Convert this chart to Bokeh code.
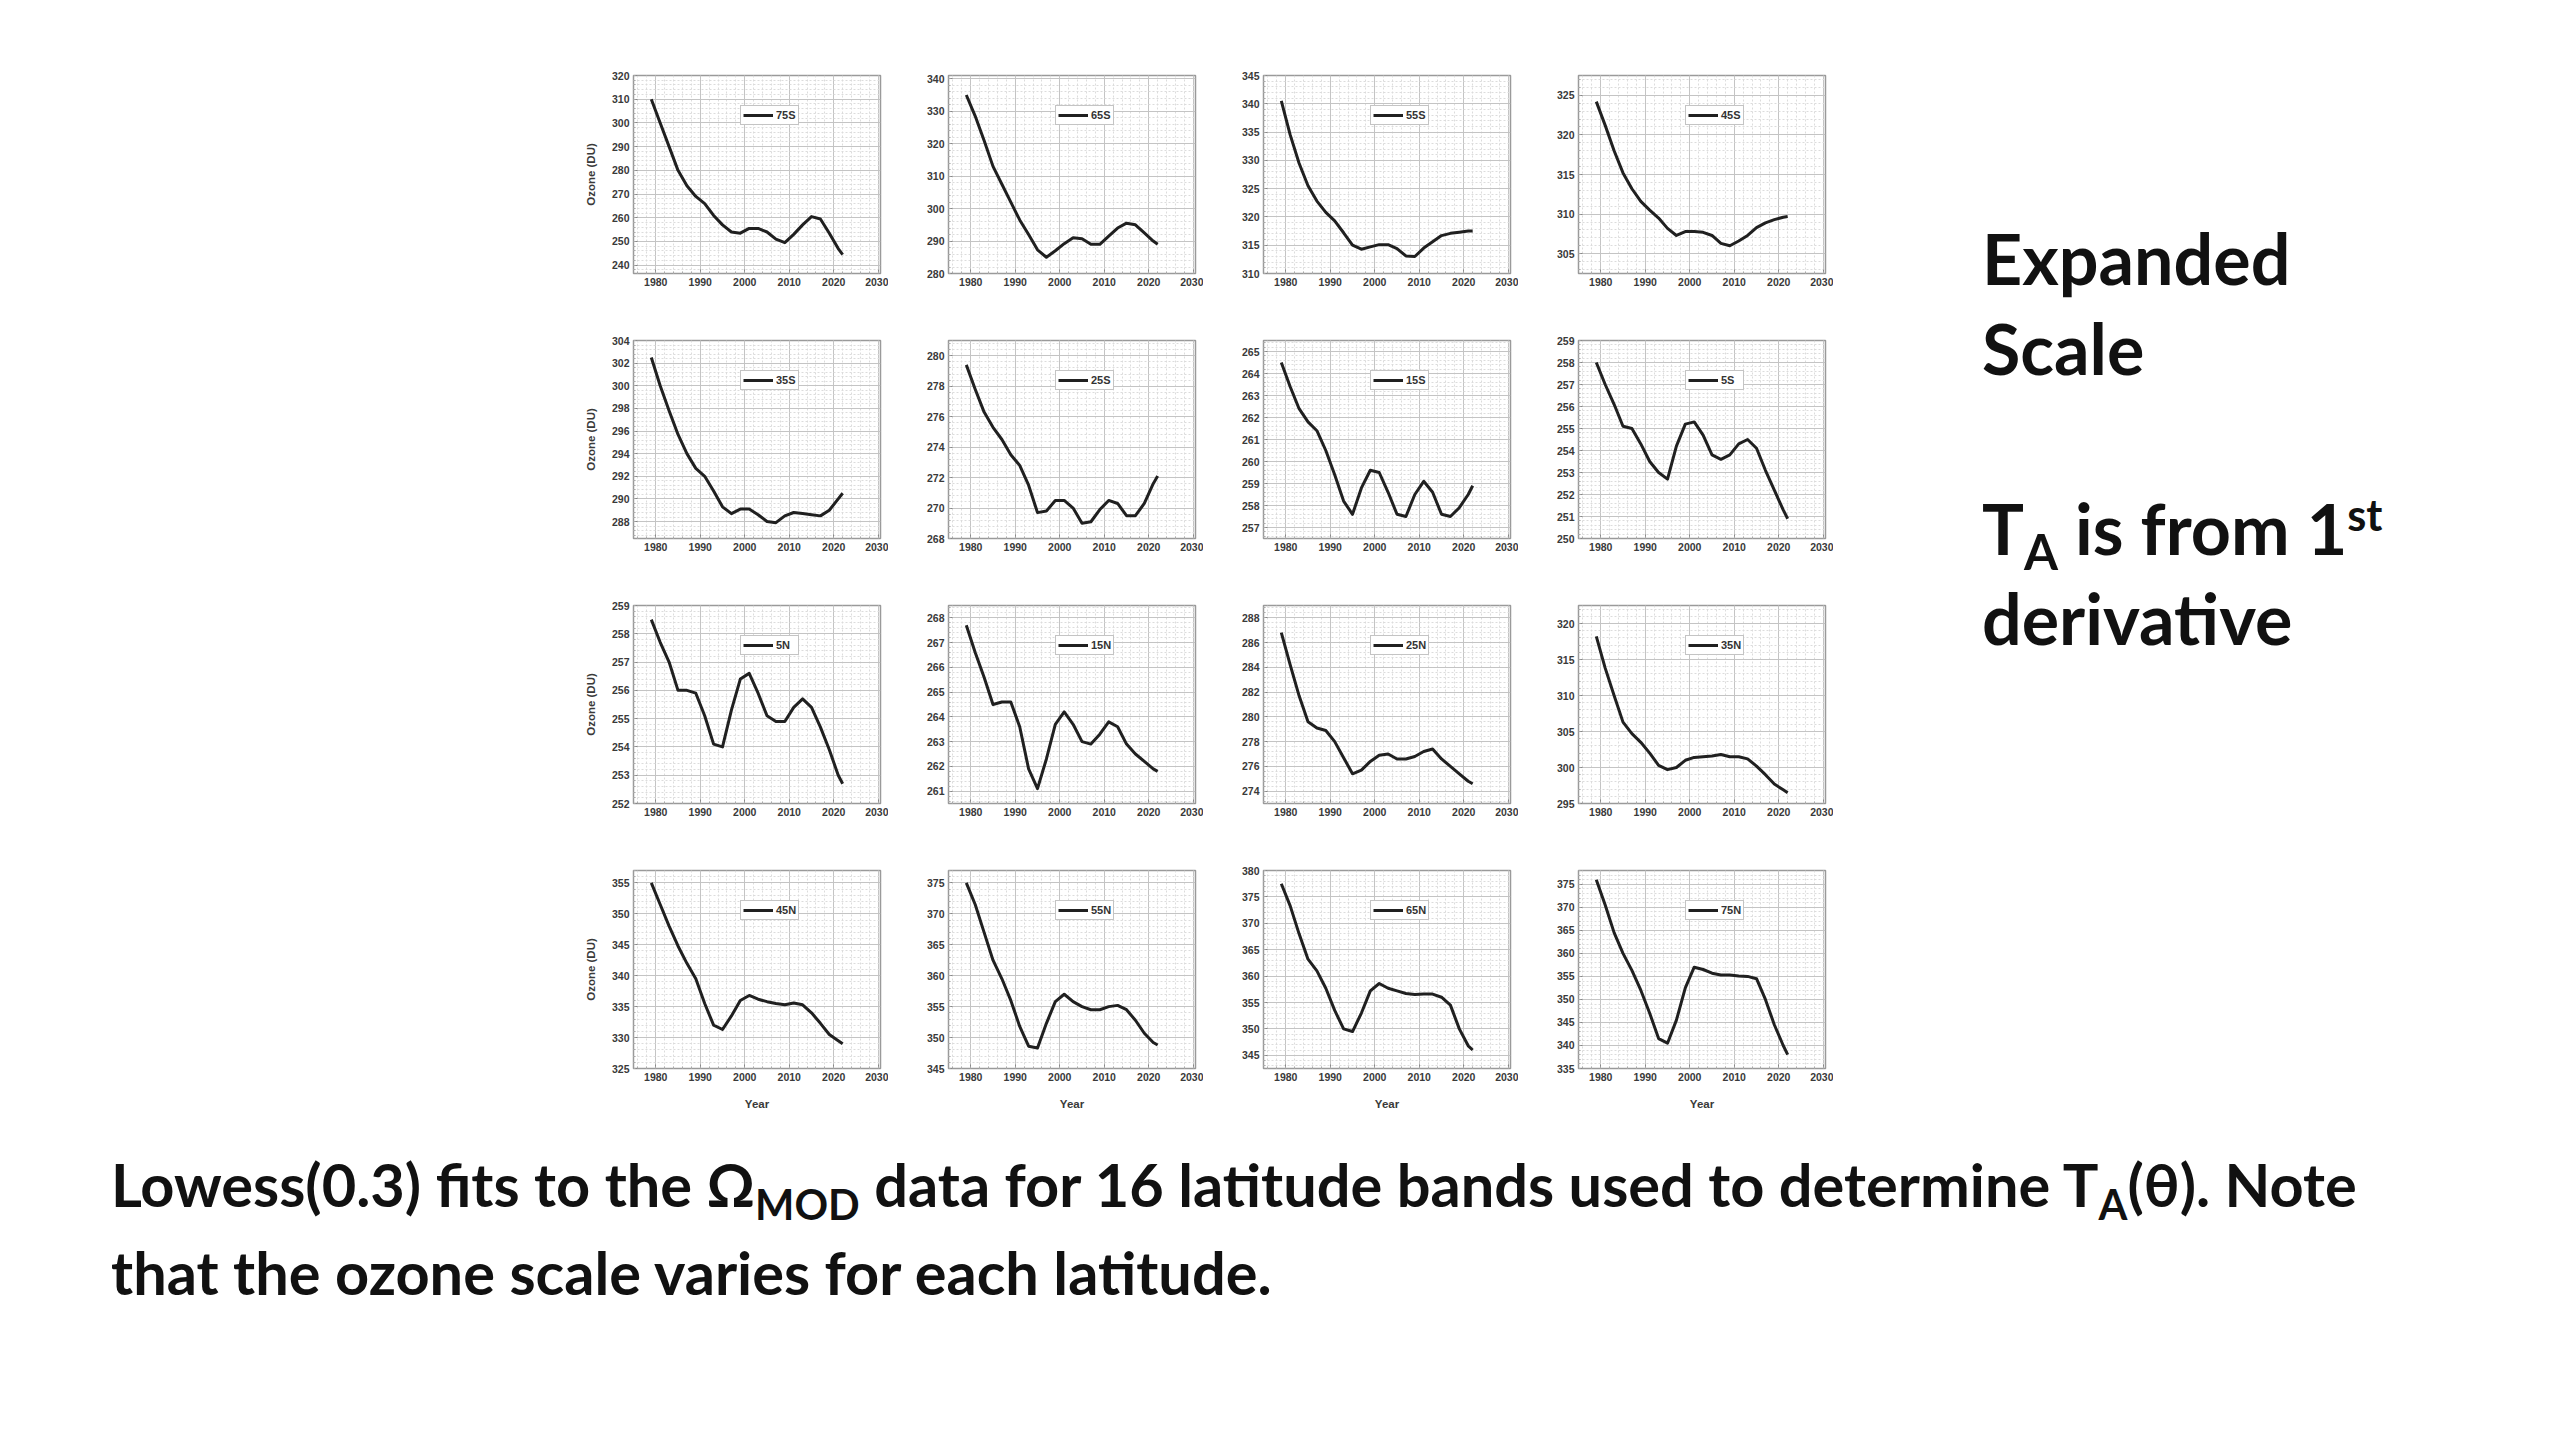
from bokeh.plotting import figure
from bokeh.layouts import gridplot, column, row
from bokeh.models import Spacer, Div, FixedTicker, Range1d, Legend, LegendItem
from bokeh.embed import file_html
from bokeh.resources import INLINE

# ---------------- data ----------------
years = [1979, 1981, 1983, 1985, 1987, 1989, 1991, 1993, 1995, 1997, 1999,
         2001, 2003, 2005, 2007, 2009, 2011, 2013, 2015, 2017, 2019, 2021, 2022]

bands = ["75S", "65S", "55S", "45S", "35S", "25S", "15S", "5S",
         "5N", "15N", "25N", "35N", "45N", "55N", "65N", "75N"]

ozone_75S = [310, 300, 290, 280, 273.5, 269, 266, 261, 257, 254, 253.5, 255.5,
             255.5, 254, 251, 249.5, 253, 257, 260.5, 259.5, 253.5, 247, 244.5]
ozone_65S = [335, 328.5, 321, 313, 307.5, 302, 296.5, 292, 287.3, 285, 287, 289.2,
             291, 290.7, 289, 289, 291.5, 294, 295.5, 295, 292.5, 290, 289]
ozone_55S = [340.5, 334.5, 329.5, 325.5, 322.8, 320.8, 319.3, 317.2, 315, 314.3, 314.7,
             315.1, 315.1, 314.4, 313.1, 313, 314.5, 315.6, 316.7, 317.1, 317.3, 317.5, 317.5]
ozone_45S = [324.2, 321.2, 318, 315.2, 313.2, 311.6, 310.5, 309.5, 308.2, 307.3, 307.8,
             307.8, 307.7, 307.3, 306.3, 306, 306.6, 307.3, 308.3, 308.9, 309.3, 309.6, 309.7]
ozone_35S = [302.5, 300, 297.8, 295.7, 294, 292.7, 292, 290.7, 289.3, 288.7, 289.1,
             289.1, 288.6, 288, 287.9, 288.5, 288.8, 288.7, 288.6, 288.5, 289, 290, 290.5]
ozone_25S = [279.4, 277.8, 276.3, 275.3, 274.5, 273.5, 272.8, 271.5, 269.7, 269.8, 270.5,
             270.5, 270, 269, 269.1, 269.9, 270.5, 270.3, 269.5, 269.5, 270.3, 271.6, 272.1]
ozone_15S = [264.5, 263.4, 262.4, 261.8, 261.4, 260.5, 259.4, 258.2, 257.6, 258.8, 259.6,
             259.5, 258.6, 257.6, 257.5, 258.5, 259.1, 258.6, 257.6, 257.5, 257.9, 258.5, 258.9]
ozone_5S = [258, 257, 256.1, 255.1, 255, 254.3, 253.5, 253, 252.7, 254.2, 255.2,
            255.3, 254.7, 253.8, 253.6, 253.8, 254.3, 254.5, 254.1, 253.1, 252.2, 251.3, 250.9]
ozone_5N = [258.5, 257.7, 257, 256, 256, 255.9, 255.1, 254.1, 254, 255.3, 256.4,
            256.6, 255.9, 255.1, 254.9, 254.9, 255.4, 255.7, 255.4, 254.7, 253.9, 253, 252.7]
ozone_15N = [267.7, 266.6, 265.6, 264.5, 264.6, 264.6, 263.6, 261.9, 261.1, 262.3, 263.7,
             264.2, 263.7, 263, 262.9, 263.3, 263.8, 263.6, 262.9, 262.5, 262.2, 261.9, 261.8]
ozone_25N = [286.8, 284.2, 281.7, 279.6, 279.1, 278.9, 278, 276.7, 275.4, 275.7, 276.4,
             276.9, 277, 276.6, 276.6, 276.8, 277.2, 277.4, 276.6, 276, 275.4, 274.8, 274.6]
ozone_35N = [318.2, 313.8, 310, 306.3, 304.7, 303.5, 302, 300.3, 299.7, 300, 301,
             301.4, 301.5, 301.6, 301.8, 301.5, 301.5, 301.2, 300.2, 299, 297.7, 296.9, 296.5]
ozone_45N = [355, 351.5, 348, 344.8, 342, 339.5, 335.5, 332, 331.3, 333.5, 336,
             336.8, 336.2, 335.8, 335.5, 335.3, 335.6, 335.3, 334, 332.3, 330.5, 329.5, 329]
ozone_55N = [375, 371.5, 367, 362.5, 359.5, 356, 351.8, 348.6, 348.3, 352.3, 355.8,
             357, 355.8, 355, 354.5, 354.5, 355, 355.2, 354.5, 352.8, 350.7, 349.2, 348.8]
ozone_65N = [377.5, 373.3, 368, 363.2, 361, 357.7, 353.5, 350, 349.5, 353, 357.2,
             358.6, 357.7, 357.2, 356.7, 356.5, 356.6, 356.6, 356, 354.5, 350, 346.8, 346]
ozone_75N = [376, 370.5, 364.5, 360, 356.3, 352, 347, 341.5, 340.5, 345.5, 352.5,
             357, 356.5, 355.7, 355.3, 355.3, 355.1, 355, 354.5, 350, 344.5, 340, 338]

series = [ozone_75S, ozone_65S, ozone_55S, ozone_45S, ozone_35S, ozone_25S, ozone_15S, ozone_5S,
          ozone_5N, ozone_15N, ozone_25N, ozone_35N, ozone_45N, ozone_55N, ozone_65N, ozone_75N]

# y-axis tick labels per panel
yticks = [
    [240, 250, 260, 270, 280, 290, 300, 310, 320],
    [280, 290, 300, 310, 320, 330, 340],
    [310, 315, 320, 325, 330, 335, 340, 345],
    [305, 310, 315, 320, 325],
    [288, 290, 292, 294, 296, 298, 300, 302, 304],
    [268, 270, 272, 274, 276, 278, 280],
    [257, 258, 259, 260, 261, 262, 263, 264, 265],
    [250, 251, 252, 253, 254, 255, 256, 257, 258, 259],
    [252, 253, 254, 255, 256, 257, 258, 259],
    [261, 262, 263, 264, 265, 266, 267, 268],
    [274, 276, 278, 280, 282, 284, 286, 288],
    [295, 300, 305, 310, 315, 320],
    [325, 330, 335, 340, 345, 350, 355],
    [345, 350, 355, 360, 365, 370, 375],
    [345, 350, 355, 360, 365, 370, 375, 380],
    [335, 340, 345, 350, 355, 360, 365, 370, 375],
]
# y-axis ranges per panel
ylims = [
    (236.5, 320), (280, 341), (310, 345), (302.5, 327.5),
    (286.5, 304), (268, 281), (256.5, 265.5), (250, 259),
    (252, 259), (260.5, 268.5), (273, 289), (295, 322.5),
    (325, 357), (345, 377), (342.5, 380), (335, 378),
]
xticks = [1980, 1990, 2000, 2010, 2020, 2030]

# ---------------- panels ----------------
FONT = "Liberation Sans"
figs = []
for i, (band, vals, yt, yl) in enumerate(zip(bands, series, yticks, ylims)):
    r_i, c_i = divmod(i, 4)
    p = figure(frame_width=247, frame_height=198, output_backend="svg", toolbar_location=None,
               x_range=Range1d(1975, 2030.5), y_range=Range1d(*yl),
               min_border_left=60, min_border_right=8, min_border_top=10, min_border_bottom=57,
               background_fill_color="white", border_fill_color="white")
    p.outline_line_color = "#9a9a9a"
    p.outline_line_width = 1.5
    step = yt[1] - yt[0]
    yminor = [yt[0] - step + k * step / 5 for k in range(5 * (len(yt) + 1) + 1)]
    xminor = [1974 + 2 * k for k in range(30)]
    p.xaxis.ticker = FixedTicker(ticks=xticks, minor_ticks=xminor)
    p.yaxis.ticker = FixedTicker(ticks=yt, minor_ticks=yminor)
    for ax in (p.xaxis[0], p.yaxis[0]):
        ax.axis_line_color = None
        ax.major_tick_line_color = "#888888"
        ax.major_tick_in = 4
        ax.major_tick_out = 0
        ax.minor_tick_line_color = "#aaaaaa"
        ax.minor_tick_in = 2
        ax.minor_tick_out = 0
        ax.major_label_text_font = FONT
        ax.major_label_text_font_style = "bold"
        ax.major_label_text_font_size = "10.5px"
        ax.major_label_text_color = "#3a3a3a"
        ax.major_label_standoff = 4
        ax.axis_label_text_font = FONT
        ax.axis_label_text_font_style = "bold"
        ax.axis_label_text_font_size = "11.5px"
        ax.axis_label_text_color = "#3a3a3a"
    p.yaxis.axis_label_standoff = 12
    p.xaxis.axis_label_standoff = 14
    if c_i == 0:
        p.yaxis.axis_label = "Ozone (DU)"
    if r_i == 3:
        p.xaxis.axis_label = "Year"
    p.grid.grid_line_color = "#c4c4c4"
    p.grid.grid_line_width = 1
    p.grid.minor_grid_line_color = "#dcdcdc"
    p.grid.minor_grid_line_dash = "2 2"
    r = p.line(years, vals, line_color="#202020", line_width=3, line_join="round")
    legend = Legend(items=[LegendItem(label=band, renderers=[r])], location=(107, 148),
                    orientation="vertical")
    legend.label_text_font = FONT
    legend.label_text_font_style = "bold"
    legend.label_text_font_size = "11px"
    legend.label_text_color = "#333333"
    legend.glyph_width = 30
    legend.glyph_height = 14
    legend.label_height = 14
    legend.label_standoff = 3
    legend.padding = 2
    legend.spacing = 0
    legend.margin = 0
    legend.border_line_color = "#8a8a8a"
    legend.border_line_width = 1.5
    legend.background_fill_color = "white"
    legend.background_fill_alpha = 1
    p.add_layout(legend)
    figs.append(p)

grid = gridplot([figs[0:4], figs[4:8], figs[8:12], figs[12:16]], toolbar_location=None)

TXT = "font-family:Lato; font-weight:700; color:#111111; white-space:nowrap;"
right_div = Div(width=560, height=560, text=(
    f'<div style="{TXT} font-size:70px; line-height:90px;">'
    'Expanded<br>Scale<br><br>'
    'T<sub style="font-size:0.7em; line-height:0;">A</sub> is from 1<sup style="font-size:0.62em; line-height:0;">st</sup><br>'
    'derivative</div>'))

caption_div = Div(width=2440, height=200, text=(
    f'<div style="{TXT} font-size:59.5px; line-height:88px; padding-left:106px;">'
    'Lowess(0.3) fits to the &Omega;<sub style="font-size:0.7em; line-height:0;">MOD</sub> data for 16 latitude bands used to determine '
    'T<sub style="font-size:0.7em; line-height:0;">A</sub>(&theta;). Note<br>'
    'that the ozone scale varies for each latitude.</div>'))

top_row = row(Spacer(width=573, height=10), grid, Spacer(width=144, height=10),
              column(Spacer(width=10, height=143), right_div))
layout = column(Spacer(width=10, height=65), top_row, Spacer(width=10, height=10), caption_div,
                background="white")

open("out.html", "w").write(file_html(layout, INLINE))
